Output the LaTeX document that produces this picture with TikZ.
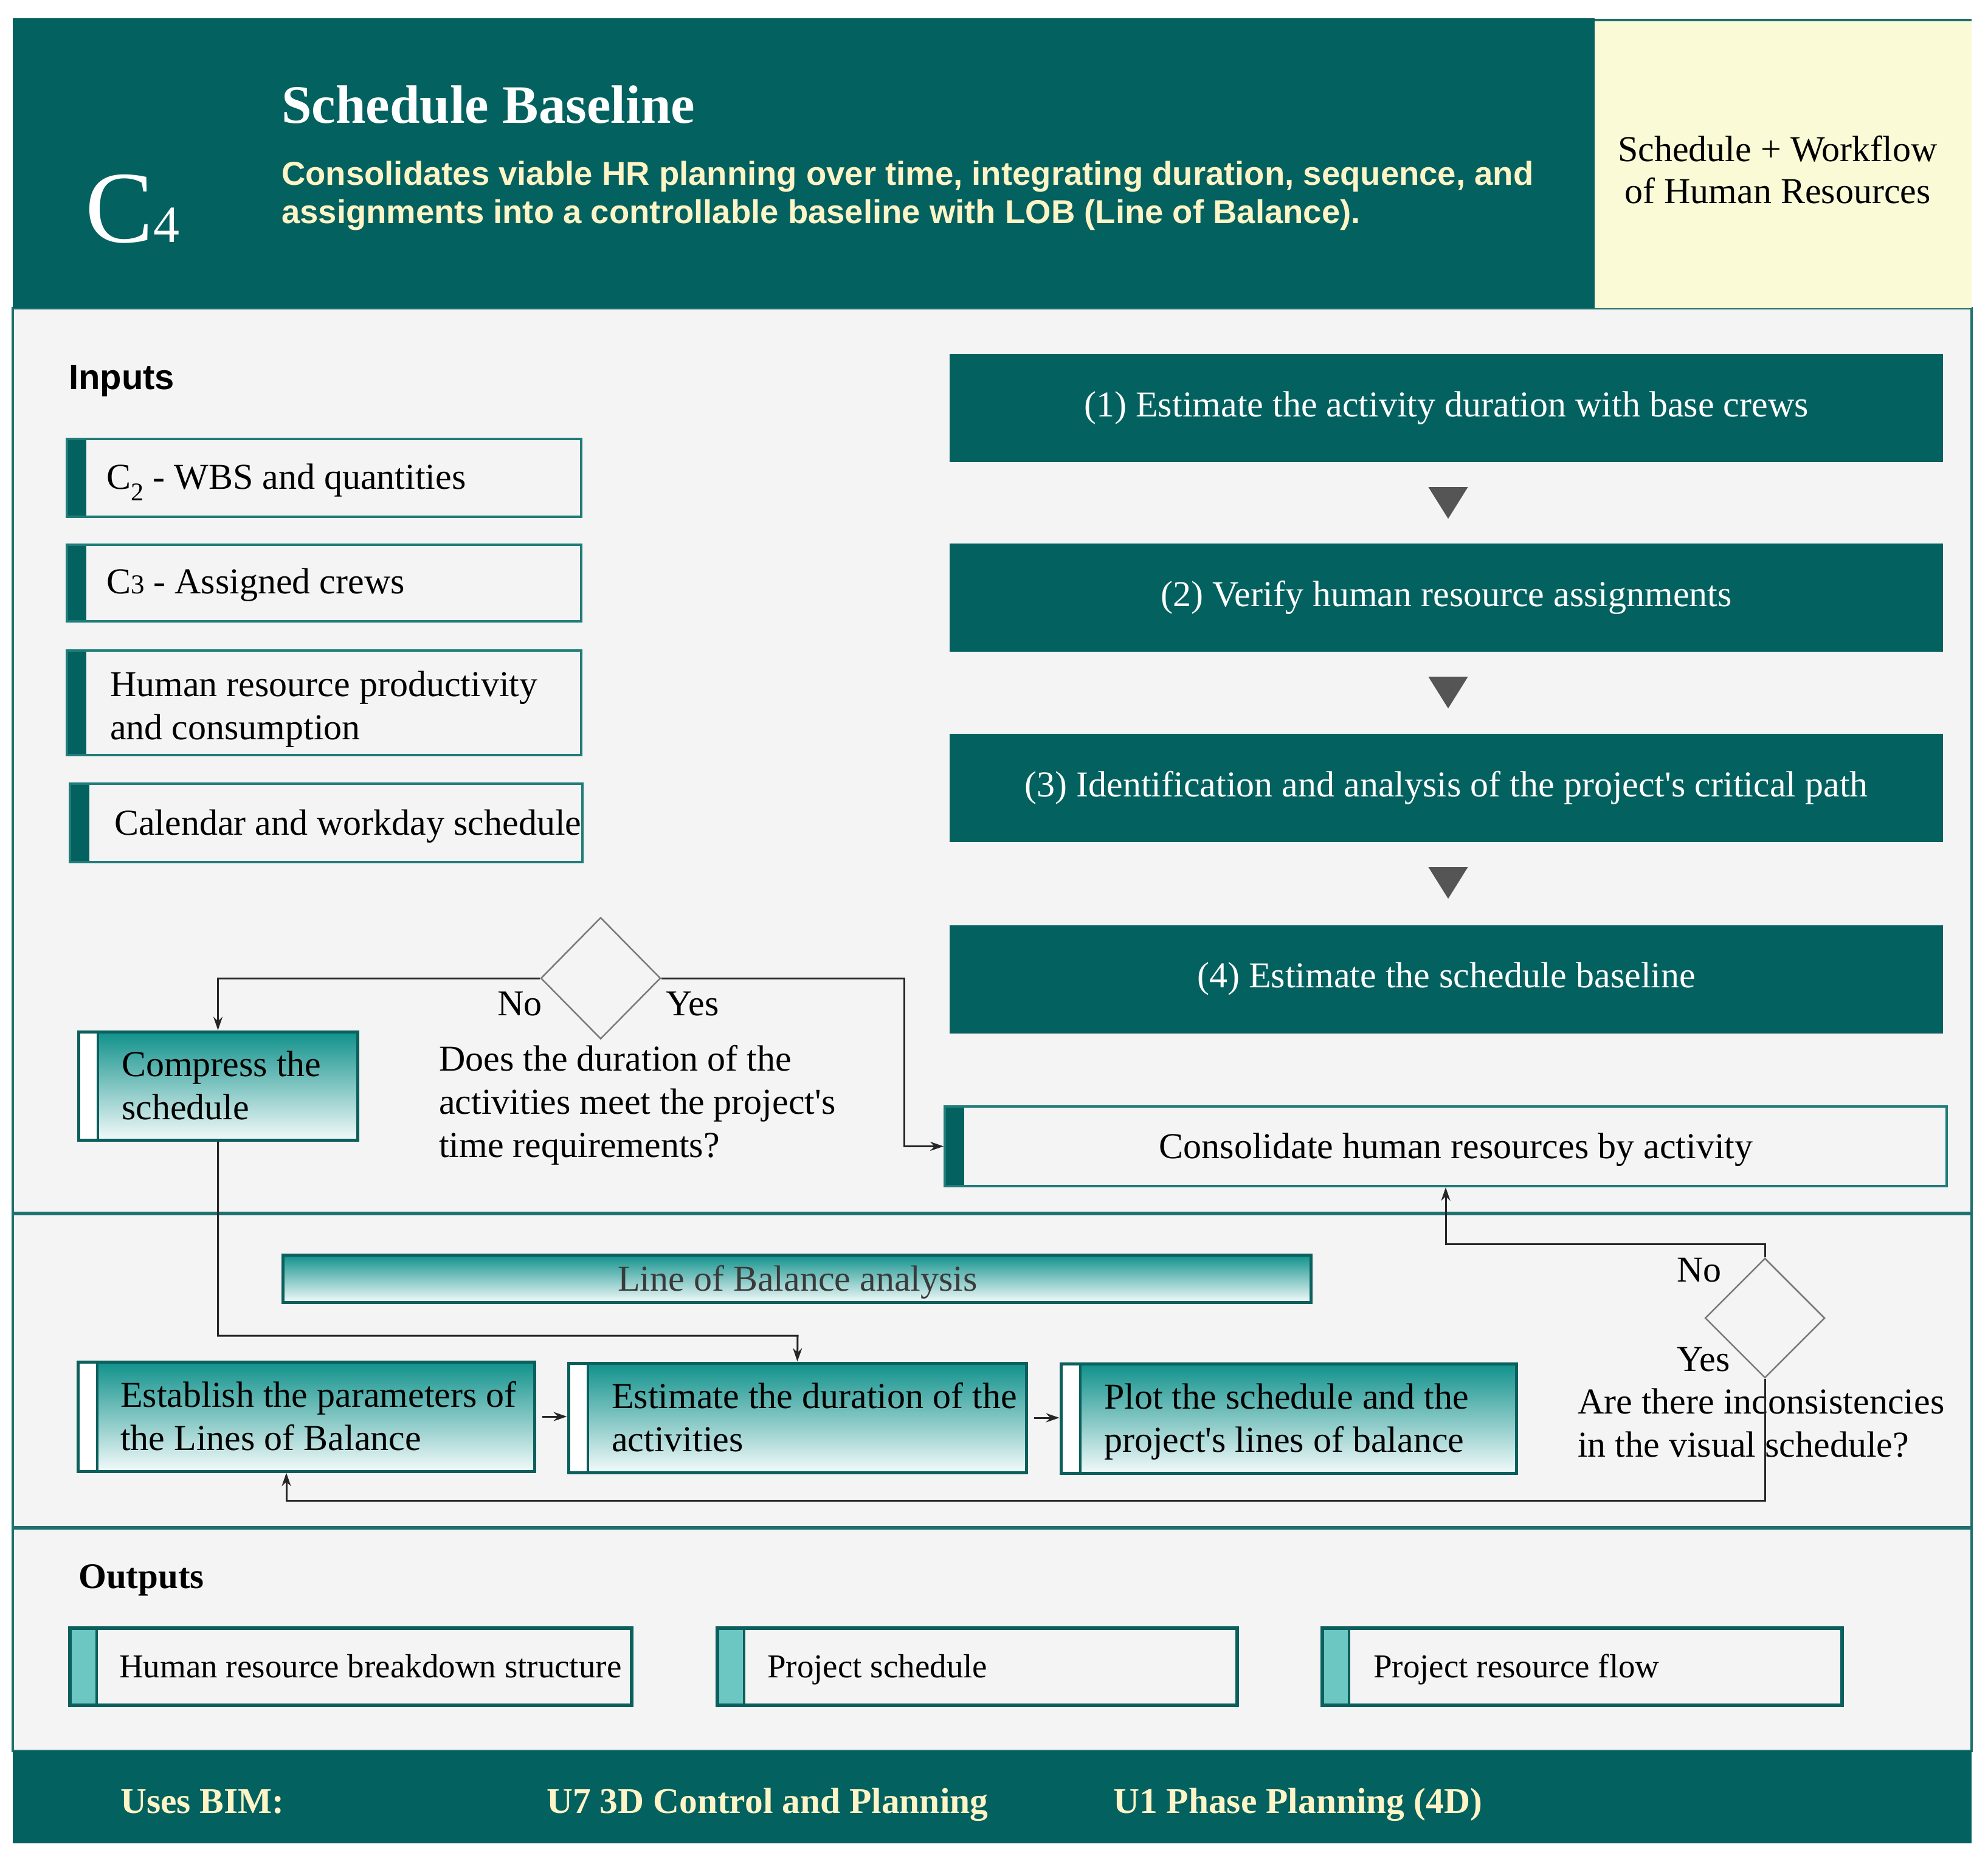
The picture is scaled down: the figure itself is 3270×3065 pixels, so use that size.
\documentclass[tikz,border=0pt]{standalone}
\usepackage{fontspec}
\setmainfont{Liberation Serif}
\newfontfamily\arialf{Liberation Sans}
\usetikzlibrary{shapes.geometric,arrows.meta,calc}
\definecolor{hdr}{HTML}{03615F}
\definecolor{ylw}{HTML}{FAFBD6}
\definecolor{cream}{HTML}{FFF4C6}
\definecolor{bodybg}{HTML}{F4F4F4}
\definecolor{bord}{HTML}{1E716E}
\definecolor{inb}{HTML}{1F7C79}
\definecolor{gdark}{HTML}{0B5F5D}
\definecolor{gtop}{HTML}{10918B}
\definecolor{gbot}{HTML}{F2FAFA}
\definecolor{lbar}{HTML}{6CC6C1}
\definecolor{tri}{HTML}{555555}
\definecolor{dgray}{HTML}{7A7A7A}
\definecolor{lobtxt}{HTML}{3A3A3A}
\newcommand{\apo}{\textquotesingle}
\begin{document}
\begin{tikzpicture}[x=1pt,y=-1pt,
  txt/.style={anchor=base west, inner sep=0pt, align=left, font=\fontsize{60}{71}\selectfont},
  stepbox/.style={fill=hdr, draw=none, minimum width=1634pt, minimum height=178pt, text=white, inner sep=0pt, font=\fontsize{60}{71}\selectfont},
  inbox/.style={draw=inb, line width=4pt, fill=bodybg, inner sep=0pt,
    path picture={\fill[hdr] (path picture bounding box.north west) rectangle ([xshift=32pt]path picture bounding box.south west);}},
  gradbox/.style={draw=gdark, line width=5pt, top color=gtop, bottom color=gbot, inner sep=0pt,
    path picture={\fill[white] (path picture bounding box.north west) rectangle ([xshift=32pt]path picture bounding box.south west);
      \draw[gdark, line width=4pt] ([xshift=32pt]path picture bounding box.north west) -- ([xshift=32pt]path picture bounding box.south west);}},
  outbox/.style={draw=gdark, line width=6pt, fill=bodybg, inner sep=0pt,
    path picture={\fill[lbar] (path picture bounding box.north west) rectangle ([xshift=44pt]path picture bounding box.south west);
      \draw[gdark, line width=4pt] ([xshift=44pt]path picture bounding box.north west) -- ([xshift=44pt]path picture bounding box.south west);}},
  decision/.style={diamond, draw=dgray, line width=2.5pt, fill=bodybg, inner sep=0pt},
  conn/.style={draw=black!85, line width=3pt, -{Stealth[length=22pt,width=15pt]}},
  bimtxt/.style={anchor=base west, inner sep=0pt, font=\bfseries\fontsize{59.5}{70}\selectfont, text=cream}
]
\useasboundingbox (0,0) rectangle (3270,3065);
\fill[white] (0,0) rectangle (3270,3065);

% ---------- frame ----------
\fill[bodybg] (21,507) rectangle (3243,2880);
\draw[bord, line width=4pt] (21,507) rectangle (3243,2880);
\fill[hdr] (21,30) rectangle (2623,507);
\fill[ylw] (2623,33) rectangle (3243,507);
\draw[bord, line width=4pt] (2623,33) -- (3243,33);
\draw[bord, line width=6pt] (21,1996) -- (3243,1996);
\draw[bord, line width=6pt] (21,2513) -- (3243,2513);
\fill[hdr] (21,2880) rectangle (3243,3032);

% ---------- header ----------
\node[anchor=base west, inner sep=0pt, text=white] (c4) at (140,398)
  {\fontsize{168}{168}\selectfont C\fontsize{86}{86}\selectfont 4};
\node[txt, font=\bfseries\fontsize{89}{100}\selectfont, text=white] (title) at (463,202) {Schedule Baseline};
\node[txt, font=\arialf\bfseries\fontsize{54.5}{63}\selectfont, text=cream] (sub) at (463,367)
  {Consolidates viable HR planning over time, integrating duration, sequence, and\\assignments into a controllable baseline with LOB (Line of Balance).};
\node[anchor=base, inner sep=0pt, align=center, font=\fontsize{60}{69}\selectfont] (ytxt) at (2924,334)
  {Schedule + Workflow\\of Human Resources};

% ---------- inputs ----------
\node[txt, font=\arialf\bfseries\fontsize{58}{70}\selectfont] (inputs) at (113,640) {Inputs};
\node[inbox, minimum width=846pt, minimum height=128pt] (in1) at (533,786) {};
\node[inbox, minimum width=846pt, minimum height=126pt] (in2) at (533,959) {};
\node[inbox, minimum width=846pt, minimum height=172pt] (in3) at (533,1156) {};
\node[inbox, minimum width=843pt, minimum height=129pt] (in4) at (536.5,1353.5) {};
\node[txt] (in1t) at (175,804) {C\textsubscript{2} - WBS and quantities};
\node[txt] (in2t) at (175,976) {C{\fontsize{45}{50}\selectfont 3} - Assigned crews};
\node[txt] (in3t) at (181,1216) {Human resource productivity\\and consumption};
\node[txt] (in4t) at (188,1373) {Calendar and workday schedule};

% ---------- steps ----------
\node[stepbox] (s1) at (2379,671) {(1) Estimate the activity duration with base crews};
\node[stepbox] (s2) at (2379,983) {(2) Verify human resource assignments};
\node[stepbox] (s3) at (2379,1296) {(3) Identification and analysis of the project\apo s critical path};
\node[stepbox] (s4) at (2379,1610.5) {(4) Estimate the schedule baseline};
\foreach \a in {s1,s2,s3}{
  \fill[tri] ($(\a.south)+(-29.5,41)$) -- ($(\a.south)+(35.5,41)$) -- ($(\a.south)+(3,93)$) -- cycle;
}

\node[inbox, minimum width=1648pt, minimum height=131pt] (cons) at (2378,1885.5) {};
\node[anchor=base, inner sep=0pt, font=\fontsize{60}{71}\selectfont] (const) at (2395,1905) {Consolidate human resources by activity};

% ---------- decision 1 ----------
\node[decision, minimum width=197pt, minimum height=200pt] (d1) at (988,1609) {};
\node[txt] (no1) at (818,1670) {No};
\node[txt] (yes1) at (1095,1670) {Yes};
\node[txt] (q1) at (722,1903) {Does the duration of the\\activities meet the project\apo s\\time requirements?};

\node[gradbox, minimum width=459pt, minimum height=178pt] (comp) at (358.5,1786) {};
\node[txt] (compt) at (200,1841) {Compress the\\schedule};

\coordinate (k1) at (1487,1609);
\draw[conn] (d1.west) -| (comp.north);
\draw[conn] (d1.east) -- (k1) |- (cons.west);

% ---------- LOB ----------
\node[draw=gdark, line width=5pt, top color=gtop, bottom color=gbot, inner sep=0pt,
      minimum width=1691pt, minimum height=78pt] (lob) at (1310.5,2103) {};
\node[anchor=base, inner sep=0pt, font=\fontsize{60}{71}\selectfont, text=lobtxt] (lobt) at (1312,2123) {Line of Balance analysis};

\node[gradbox, minimum width=751pt, minimum height=180pt] (ea) at (503.5,2330) {};
\node[gradbox, minimum width=753pt, minimum height=180pt] (eb) at (1311.5,2332) {};
\node[gradbox, minimum width=749pt, minimum height=180pt] (ec) at (2119.5,2333) {};
\node[txt] (eat) at (198,2385) {Establish the parameters of\\the Lines of Balance};
\node[txt] (ebt) at (1006,2387) {Estimate the duration of the\\activities};
\node[txt] (ect) at (1816,2388) {Plot the schedule and the\\project\apo s lines of balance};

\draw[conn, shorten <=10pt] (ea.east) -- (ea.east -| eb.west);
\draw[conn, shorten <=10pt] (eb.east) -- (eb.east -| ec.west);

\coordinate (j1) at (1312,2197);
\draw[conn] (comp.south) |- (j1) -- (eb.north);

% ---------- decision 2 ----------
\node[decision, minimum width=197pt, minimum height=197pt, fill=none] (d2) at (2903,2168) {};
\node[txt] (no2) at (2758,2108) {No};
\node[txt] (yes2) at (2758,2255) {Yes};
\node[txt] (q2) at (2595,2396) {Are there inconsistencies\\in the visual schedule?};

\coordinate (k2) at (2903,2046);
\draw[conn] (d2.north) -- (k2) -| (cons.south);
\coordinate (k3) at (471,2468);
\draw[conn] (d2.south) |- (k3) -- (k3 |- ea.south);

% ---------- outputs ----------
\node[txt, font=\bfseries\fontsize{59}{70}\selectfont] (outputs) at (129,2612) {Outputs};
\node[outbox, minimum width=924pt, minimum height=127pt] (o1) at (577,2741.5) {};
\node[outbox, minimum width=855pt, minimum height=127pt] (o2) at (1607.5,2741.5) {};
\node[outbox, minimum width=855pt, minimum height=127pt] (o3) at (2602.5,2741.5) {};
\node[txt, font=\fontsize{55}{66}\selectfont] (o1t) at (196,2759) {Human resource breakdown structure};
\node[txt, font=\fontsize{55}{66}\selectfont] (o2t) at (1262,2759) {Project schedule};
\node[txt, font=\fontsize{55}{66}\selectfont] (o3t) at (2259,2759) {Project resource flow};

% ---------- footer ----------
\node[bimtxt] (bim) at (198,2982) {Uses BIM:};
\node[bimtxt] (u7) at (899,2982) {U7 3D Control and Planning};
\node[bimtxt] (u1) at (1831,2982) {U1 Phase Planning (4D)};
\end{tikzpicture}
\end{document}
